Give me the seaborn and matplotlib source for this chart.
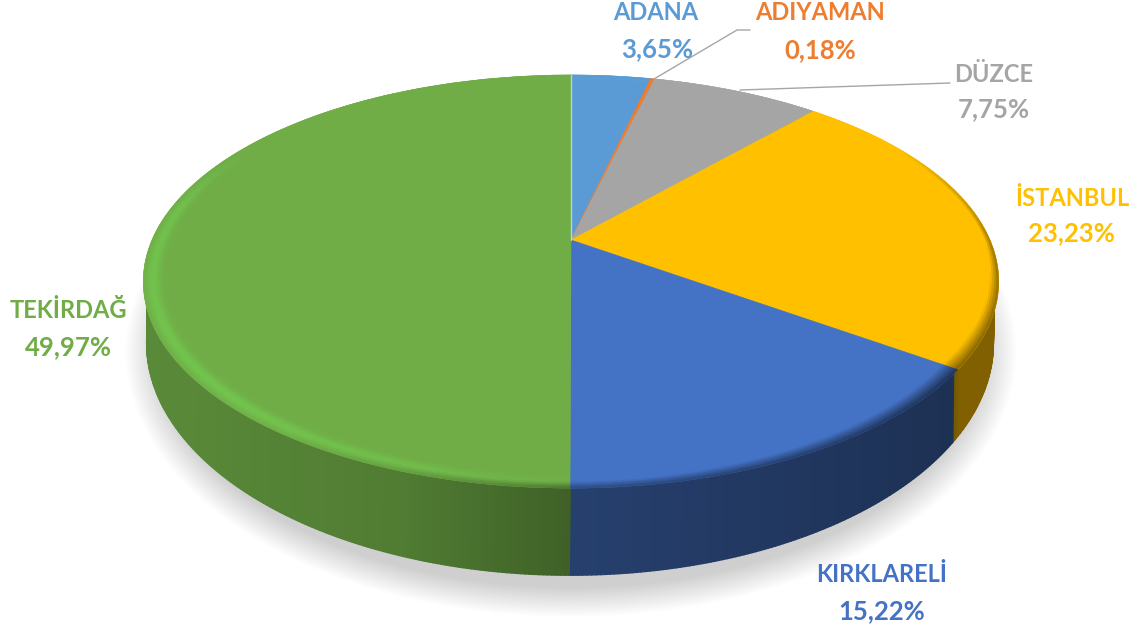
# 3D look pie chart of shares per province
import numpy as np
import seaborn as sns
import matplotlib
matplotlib.use('Agg')
import matplotlib.pyplot as plt
from matplotlib.collections import PolyCollection
from matplotlib.patches import Ellipse
from matplotlib.transforms import Transform

# Data
cities = ['ADANA', 'ADIYAMAN', 'DÜZCE', 'İSTANBUL', 'KIRKLARELİ', 'TEKİRDAĞ']
shares = [3.65, 0.18, 7.75, 23.23, 15.22, 49.97]
colors = ['#5B9BD5', '#ED7D31', '#A5A5A5', '#FFC000', '#4472C4', '#70AD47']

# Layout (pixels of the picture)
name_xy = [(656, 13), (820, 13), (994, 74), (1072, 198), (882, 575), (68, 311)]
pct_xy = [(657, 49), (820, 50), (994, 109), (1071, 233), (882, 611), (68, 347)]

sns.set_theme(style='white')
plt.rcParams['font.family'] = ['Lato', 'DejaVu Sans']
palette = sns.color_palette(colors)


class Perspective(Transform):
    # tilted disc: unit circle to picture pixels
    input_dims = 2
    output_dims = 2
    is_separable = False
    has_inverse = False

    def __init__(self, a, b, k, cx, cy):
        super().__init__()
        self.a, self.b, self.k, self.cx, self.cy = a, b, k, cx, cy

    def transform_non_affine(self, values):
        v = np.asarray(values, dtype=float)
        w = 1 + self.k * v[:, 1]
        return np.column_stack([self.cx + self.a * v[:, 0] / w, self.cy - self.b * v[:, 1] / w])


top_disc = Perspective(419, 198.2, 0.201, 571, 240)
low_disc = Perspective(414.5, 222.6, 0.201, 570, 296.4)

fig = plt.figure(figsize=(11.39, 6.30), dpi=100)
ax = fig.add_axes([0, 0, 1, 1])
wedges, _ = ax.pie(shares, colors=palette, startangle=90, counterclock=False)
ax.set_aspect('auto')
ax.set_xlim(0, 1139)
ax.set_ylim(630, 0)
ax.axis('off')


def circle(theta_deg, r=1.0):
    t = np.radians(theta_deg)
    return np.column_stack([r * np.cos(t), r * np.sin(t)])


def side_shade(x):
    return np.interp(x, [143, 400, 571, 950, 958, 1000], [0.80, 0.72, 0.56, 0.43, 0.50, 0.50])


# soft shadow under the pie
for i in range(16):
    ax.add_patch(Ellipse((571, 352), 2 * (412 + 2.2 * i), 2 * (236 + 1.9 * i),
                         fc='#000000', ec='none', alpha=0.011, zorder=1))

# side wall
side_verts, side_cols = [], []
for wedge, col in zip(wedges, palette):
    th = np.arange(wedge.theta1, wedge.theta2 + 0.5, 0.5)
    th[-1] = wedge.theta2
    up = top_disc.transform_non_affine(circle(th, 0.99))
    lo = low_disc.transform_non_affine(circle(th))
    for j in range(len(th) - 1):
        side_verts.append([up[j], up[j + 1], lo[j + 1], lo[j]])
        s = side_shade(0.5 * (lo[j, 0] + lo[j + 1, 0]))
        side_cols.append(tuple(np.array(col) * s))
order = np.argsort([v[2][1] for v in side_verts])
ax.add_collection(PolyCollection([side_verts[i] for i in order],
                                 facecolors=[side_cols[i] for i in order],
                                 edgecolors=[side_cols[i] for i in order],
                                 linewidths=1.3, zorder=2))

# top face
for wedge in wedges:
    wedge.set_transform(top_disc + ax.transData)
    wedge.set_zorder(3)
    wedge.set_edgecolor(wedge.get_facecolor())
    wedge.set_linewidth(0.4)

# bevel on the outer edge of the top face
radii = np.linspace(0.945, 1.0, 12)
rim_verts, rim_cols = [], []
for wedge, col in zip(wedges, palette):
    th = np.arange(wedge.theta1, wedge.theta2 + 0.5, 0.5)
    th[-1] = wedge.theta2
    col = np.array(col)
    is_green = col[1] > 0.6 and col[0] < 0.5
    for r0, r1 in zip(radii[:-1], radii[1:]):
        rm = 0.5 * (r0 + r1)
        inner = top_disc.transform_non_affine(circle(th, r0))
        outer = top_disc.transform_non_affine(circle(th, r1))
        for j in range(len(th) - 1):
            # clockwise angle from the top of the pie
            phi = (90 - 0.5 * (th[j] + th[j + 1])) % 360
            # light strip on the lower left, dark blend towards the wall on the right
            glow = np.interp(phi, [180, 200, 225, 280, 300], [0.1, 0.7, 1, 0.8, 0])
            glow *= np.exp(-((rm - 0.978) / 0.016) ** 2)
            front = np.interp(phi, [60, 90, 125, 180, 215], [0, 0.8, 1, 0.8, 0])
            width = np.interp(phi, [90, 125, 180], [0.012, 0.035, 0.02])
            dark = np.clip((rm - (1 - width)) / width, 0, 1) * front
            x = 0.5 * (inner[j, 0] + inner[j + 1, 0])
            c = col * (1 - dark) + col * side_shade(x) * dark
            if is_green:
                c = np.clip(c + np.array([0.01, 0.10, 0.03]) * glow, 0, 1)
            rim_verts.append([inner[j], inner[j + 1], outer[j + 1], outer[j]])
            rim_cols.append(tuple(c))
ax.add_collection(PolyCollection(rim_verts, facecolors=rim_cols, edgecolors=rim_cols,
                                 linewidths=0.3, zorder=4))

# pale seam where first and last slice meet
seam = top_disc.transform_non_affine(np.array([[0.0, 0.0], [0.0, 1.0]]))
ax.plot(seam[:, 0], seam[:, 1], color='white', lw=1.0, alpha=0.55, zorder=5)

# leader lines
ax.plot([654, 737, 750], [79, 30, 30], color='#A6A6A6', lw=1.0, zorder=6)
ax.plot([740, 950], [90, 83], color='#A6A6A6', lw=1.0, zorder=6)

# labels
for name, val, col, nxy, pxy in zip(cities, shares, colors, name_xy, pct_xy):
    pct = f'{val:.2f}%'.replace('.', ',')
    ax.text(nxy[0], nxy[1], name, color=col, fontsize=17, fontweight='bold',
            ha='center', va='center', zorder=7)
    ax.text(pxy[0], pxy[1], pct, color=col, fontsize=18.5, fontweight='bold',
            ha='center', va='center', zorder=7)

fig.savefig('out.png', dpi=100, facecolor='white')
